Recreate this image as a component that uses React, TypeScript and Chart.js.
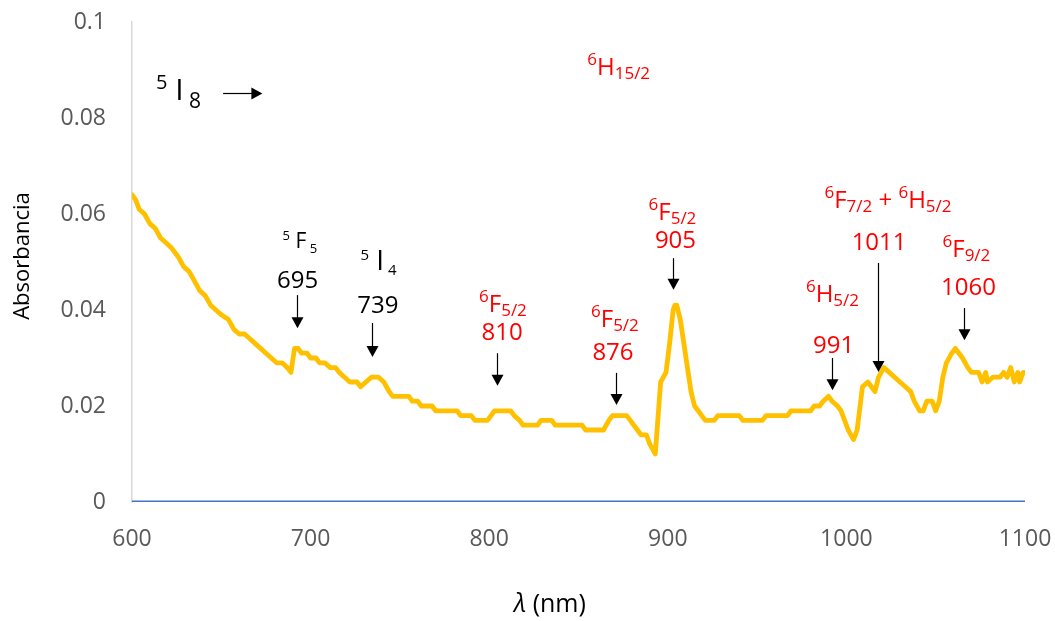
import React, { useEffect, useRef } from "react";
import { Chart, registerables } from "chart.js";
Chart.register(...registerables);

// ---- data ----
const wavelengths = [
  600, 602, 604, 607, 610, 613, 616, 619, 622, 626, 629, 632, 635, 638, 641, 644, 647, 650, 654, 657,
  660, 663, 666, 669, 672, 675, 678, 681, 684, 687, 689, 691, 693, 695, 698, 700, 703, 705, 708, 711,
  714, 716, 719, 722, 726, 728, 731, 734, 738, 741, 744, 746, 755, 757, 760, 762, 768, 770, 782, 784,
  790, 792, 799, 801, 803, 811, 812, 814, 817, 819, 827, 829, 835, 837, 852, 854, 864, 867, 869, 877,
  879, 881, 883, 885, 888, 890, 893, 895, 896, 899, 901, 903, 904, 905, 907, 909, 911, 913, 915, 917,
  919, 921, 926, 928, 940, 942, 953, 955, 967, 969, 980, 982, 985, 987, 990, 992, 995, 997, 999, 1001,
  1004, 1006, 1008, 1009, 1012, 1014, 1016, 1018, 1021, 1024, 1027, 1030, 1033, 1036, 1038, 1041, 1043, 1045, 1048, 1050,
  1052, 1054, 1056, 1059, 1061, 1063, 1065, 1068, 1070, 1074, 1076, 1078, 1079, 1082, 1086, 1088, 1090, 1092, 1094, 1096,
  1097, 1099, 1100,
];
const absorbance = [
  0.064, 0.063, 0.061, 0.06, 0.058, 0.057, 0.055, 0.054, 0.053, 0.051, 0.049, 0.048, 0.046, 0.044, 0.043, 0.041, 0.04, 0.039, 0.038, 0.036,
  0.035, 0.035, 0.034, 0.033, 0.032, 0.031, 0.03, 0.029, 0.029, 0.028, 0.027, 0.032, 0.032, 0.031, 0.031, 0.03, 0.03, 0.029, 0.029, 0.028,
  0.028, 0.027, 0.026, 0.025, 0.025, 0.024, 0.025, 0.026, 0.026, 0.025, 0.023, 0.022, 0.022, 0.021, 0.021, 0.02, 0.02, 0.019, 0.019, 0.018,
  0.018, 0.017, 0.017, 0.018, 0.019, 0.019, 0.019, 0.018, 0.017, 0.016, 0.016, 0.017, 0.017, 0.016, 0.016, 0.015, 0.015, 0.017, 0.018, 0.018,
  0.017, 0.016, 0.015, 0.014, 0.014, 0.012, 0.01, 0.02, 0.025, 0.027, 0.033, 0.04, 0.041, 0.041, 0.038, 0.033, 0.028, 0.023, 0.02, 0.019,
  0.018, 0.017, 0.017, 0.018, 0.018, 0.017, 0.017, 0.018, 0.018, 0.019, 0.019, 0.02, 0.02, 0.021, 0.022, 0.021, 0.02, 0.019, 0.017, 0.015,
  0.013, 0.015, 0.021, 0.024, 0.025, 0.024, 0.023, 0.026, 0.028, 0.027, 0.026, 0.025, 0.024, 0.023, 0.021, 0.019, 0.019, 0.021, 0.021, 0.019,
  0.021, 0.026, 0.029, 0.031, 0.032, 0.031, 0.03, 0.028, 0.027, 0.027, 0.025, 0.027, 0.025, 0.026, 0.026, 0.027, 0.026, 0.028, 0.025, 0.027,
  0.025, 0.027, 0.027,
];
const baselineWavelengths = [600, 1100];
const baselineValues = [0, 0];

const xMin = 600;
const xMax = 1100;
const xStep = 100;
const yMin = 0;
const yMax = 0.1;
const yStep = 0.02;

const yTitle = "Absorbancia";
const xTitleSymbol = "λ";
const xTitleRest = " (nm)";

// annotation text: [text, fontSize, baselineShift]
type Seg = [string, number, number];
const RED = "#FF0000";
const BLACK = "#000000";

const annotationLabels: { x: number; y: number; color: string; align: "left" | "center"; segs: Seg[] }[] = [
  { x: 613.4, y: 0.0838, color: BLACK, align: "left", segs: [["5", 20, -11], [" I", 30, 0], [" 8", 21, 8]] },
  { x: 694, y: 0.0529, color: BLACK, align: "center", segs: [["5", 13, -8], [" F", 21, 0], [" 5", 13, 5]] },
  { x: 692.7, y: 0.0446, color: BLACK, align: "center", segs: [["695", 24, 0]] },
  { x: 738, y: 0.0483, color: BLACK, align: "center", segs: [["5", 15, -10], [" I", 28, 0], [" 4", 15, 5]] },
  { x: 737.7, y: 0.0394, color: BLACK, align: "center", segs: [["739", 24, 0]] },
  { x: 807.7, y: 0.0396, color: RED, align: "center", segs: [["6", 17, -10], ["F", 24, 0], ["5/2", 17, 4]] },
  { x: 807.2, y: 0.0337, color: RED, align: "center", segs: [["810", 24, 0]] },
  { x: 870.4, y: 0.0365, color: RED, align: "center", segs: [["6", 17, -10], ["F", 24, 0], ["5/2", 17, 4]] },
  { x: 869.3, y: 0.0296, color: RED, align: "center", segs: [["876", 24, 0]] },
  { x: 902.6, y: 0.0587, color: RED, align: "center", segs: [["6", 17, -10], ["F", 24, 0], ["5/2", 17, 4]] },
  { x: 904.3, y: 0.0529, color: RED, align: "center", segs: [["905", 24, 0]] },
  { x: 992.2, y: 0.0417, color: RED, align: "center", segs: [["6", 17, -10], ["H", 24, 0], ["5/2", 17, 4]] },
  { x: 992.8, y: 0.031, color: RED, align: "center", segs: [["991", 24, 0]] },
  {
    x: 1023.3, y: 0.0612, color: RED, align: "center",
    segs: [["6", 17, -10], ["F", 24, 0], ["7/2", 17, 4], [" + ", 24, 0], ["6", 17, -10], ["H", 24, 0], ["5/2", 17, 4]],
  },
  { x: 1018.3, y: 0.0525, color: RED, align: "center", segs: [["1011", 24, 0]] },
  { x: 1067.2, y: 0.051, color: RED, align: "center", segs: [["6", 17, -10], ["F", 24, 0], ["9/2", 17, 4]] },
  { x: 1068.4, y: 0.0431, color: RED, align: "center", segs: [["1060", 24, 0]] },
  { x: 872.5, y: 0.089, color: RED, align: "center", segs: [["6", 17, -10], ["H", 24, 0], ["15/2", 17, 4]] },
];

// vertical arrows: x, top value, tip value
const downArrows: { x: number; from: number; to: number }[] = [
  { x: 692.4, from: 0.0431, to: 0.0362 },
  { x: 734.4, from: 0.0373, to: 0.0302 },
  { x: 804.4, from: 0.031, to: 0.0242 },
  { x: 871, from: 0.0269, to: 0.0202 },
  { x: 902.9, from: 0.0508, to: 0.0442 },
  { x: 991.9, from: 0.03, to: 0.0233 },
  { x: 1017.7, from: 0.0498, to: 0.0271 },
  { x: 1065.8, from: 0.0404, to: 0.0337 },
];
const rightArrows: { from: number; to: number; y: number }[] = [{ from: 651, to: 673, y: 0.0852 }];

const FONT = "'Open Sans', 'Noto Sans', sans-serif";

function drawSegs(ctx: CanvasRenderingContext2D, segs: Seg[], x: number, y: number, align: string, color: string) {
  ctx.save();
  ctx.fillStyle = color;
  ctx.textBaseline = "alphabetic";
  ctx.textAlign = "left";
  let total = 0;
  const widths = segs.map(([t, s]) => {
    ctx.font = `${s}px ${FONT}`;
    const w = ctx.measureText(t).width;
    total += w;
    return w;
  });
  let cx = align === "center" ? x - total / 2 : x;
  segs.forEach(([t, s, dy], i) => {
    ctx.font = `${s}px ${FONT}`;
    ctx.fillText(t, cx, y + dy);
    cx += widths[i];
  });
  ctx.restore();
}

const annotationPlugin = {
  id: "annotations",
  afterDraw(chart: any) {
    const ctx: CanvasRenderingContext2D = chart.ctx;
    const xs = chart.scales.x;
    const ys = chart.scales.y;
    annotationLabels.forEach((a) => {
      drawSegs(ctx, a.segs, xs.getPixelForValue(a.x), ys.getPixelForValue(a.y), a.align, a.color);
    });
    ctx.save();
    ctx.strokeStyle = "#000";
    ctx.fillStyle = "#000";
    ctx.lineWidth = 1.2;
    const head = 11;
    const half = 6;
    downArrows.forEach((a) => {
      const px = Math.round(xs.getPixelForValue(a.x)) + 0.5;
      const y1 = ys.getPixelForValue(a.from);
      const y2 = ys.getPixelForValue(a.to);
      ctx.beginPath();
      ctx.moveTo(px, y1);
      ctx.lineTo(px, y2 - head + 1);
      ctx.stroke();
      ctx.beginPath();
      ctx.moveTo(px - half, y2 - head);
      ctx.lineTo(px + half, y2 - head);
      ctx.lineTo(px, y2);
      ctx.closePath();
      ctx.fill();
    });
    rightArrows.forEach((a) => {
      const py = Math.round(ys.getPixelForValue(a.y)) + 0.5;
      const x1 = xs.getPixelForValue(a.from);
      const x2 = xs.getPixelForValue(a.to);
      ctx.beginPath();
      ctx.moveTo(x1, py);
      ctx.lineTo(x2 - head + 1, py);
      ctx.stroke();
      ctx.beginPath();
      ctx.moveTo(x2 - head, py - half);
      ctx.lineTo(x2 - head, py + half);
      ctx.lineTo(x2, py);
      ctx.closePath();
      ctx.fill();
    });
    ctx.restore();

    // axis titles
    ctx.save();
    ctx.fillStyle = "#000";
    ctx.textBaseline = "alphabetic";
    ctx.font = `italic 25px ${FONT}`;
    const w1 = ctx.measureText(xTitleSymbol).width;
    ctx.font = `25px ${FONT}`;
    const w2 = ctx.measureText(xTitleRest).width;
    const cx = xs.left + (xs.right - xs.left) * 0.468;
    const sx = cx - (w1 + w2) / 2;
    ctx.font = `italic 25px ${FONT}`;
    ctx.fillText(xTitleSymbol, sx, 612);
    ctx.font = `25px ${FONT}`;
    ctx.fillText(xTitleRest, sx + w1, 612);
    ctx.restore();

    ctx.save();
    ctx.fillStyle = "#000";
    ctx.font = `22px ${FONT}`;
    ctx.textAlign = "center";
    ctx.textBaseline = "middle";
    ctx.translate(23, (ys.top + ys.bottom) / 2 - 6);
    ctx.rotate(-Math.PI / 2);
    ctx.fillText(yTitle, 0, 0);
    ctx.restore();
  },
};

export default function App() {
  const ref = useRef<HTMLCanvasElement>(null);
  useEffect(() => {
    if (!ref.current) return;
    const chart = new Chart(ref.current, {
      type: "line",
      data: {
        datasets: [
          {
            label: "Absorbancia",
            data: wavelengths.map((w, i) => ({ x: w, y: absorbance[i] })),
            borderColor: "#FFC000",
            borderWidth: 4.8,
            pointRadius: 0,
            tension: 0,
            borderJoinStyle: "round",
            borderCapStyle: "round",
          },
          {
            label: "base",
            data: baselineWavelengths.map((w, i) => ({ x: w, y: baselineValues[i] })),
            borderColor: "#4472C4",
            borderWidth: 3,
            pointRadius: 0,
          },
        ],
      },
      options: {
        responsive: false,
        animation: false,
        devicePixelRatio: 1,
        layout: { padding: { left: 0, right: 30, top: 22, bottom: 0 } },
        plugins: { legend: { display: false }, tooltip: { enabled: false } },
        scales: {
          x: {
            type: "linear",
            min: xMin,
            max: xMax,
            afterFit: (s: any) => {
              s.height = 119;
              s.paddingLeft = 0;
              s.paddingRight = 0;
            },
            grid: { display: false, drawTicks: false },
            border: { display: false },
            ticks: {
              stepSize: xStep,
              padding: 24,
              color: "#595959",
              font: { family: FONT, size: 23 },
              maxRotation: 0,
              callback: (v: any) => String(v),
            },
          },
          y: {
            min: yMin,
            max: yMax,
            afterFit: (s: any) => {
              s.width = 132;
              s.paddingTop = 0;
              s.paddingBottom = 0;
            },
            grid: { display: false, drawTicks: false },
            border: { display: true, color: "#D9D9D9", width: 1.5 },
            ticks: {
              stepSize: yStep,
              padding: 26,
              color: "#595959",
              font: { family: FONT, size: 23 },
              callback: (v: any) => String(Number(Number(v).toFixed(2))),
            },
          },
        },
      },
      plugins: [annotationPlugin],
    });
    return () => chart.destroy();
  }, []);
  return (
    <div style={{ position: "absolute", left: 0, top: 0, width: 1055, height: 621, background: "#fff" }}>
      <canvas ref={ref} width={1055} height={621} style={{ width: 1055, height: 621, display: "block" }} />
    </div>
  );
}
